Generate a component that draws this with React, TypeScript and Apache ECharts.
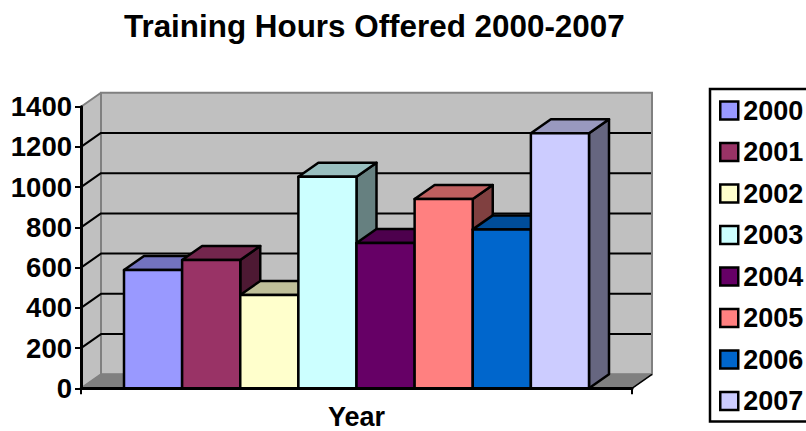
import React, { useEffect, useRef } from "react";
import * as echarts from "echarts";

const chartTitle = "Training Hours Offered 2000-2007";
const axisTitle = "Year";
const categories = [""];
const years = ["2000", "2001", "2002", "2003", "2004", "2005", "2006", "2007"];
const hours = [588, 638, 464, 1052, 722, 941, 790, 1268];
const colors = ["#9999FF", "#993366", "#FFFFCC", "#CCFFFF", "#660066", "#FF8080", "#0066CC", "#CCCCFF"];
const topColors = ["#7373BF", "#73264D", "#BFBF99", "#99BFBF", "#4D004D", "#BF6060", "#004D99", "#9999BF"];
const sideColors = ["#4D4D80", "#4D1933", "#808066", "#668080", "#330033", "#804040", "#003366", "#666680"];
const valueTicks = [0, 200, 400, 600, 800, 1000, 1200, 1400];

const FONT = "Liberation Sans";
const DX = 20;
const DY = -14;
const BAR_SHARE = 465 / 551;

export default function App() {
  const ref = useRef<HTMLDivElement>(null);
  useEffect(() => {
    const chart = echarts.init(ref.current!, null, { renderer: "svg" });

    const wallItem = (params: any, api: any) => {
      const { x, width } = params.coordSys;
      const r = x + width;
      const base = api.coord([0, 0])[1];
      const top = api.coord([0, valueTicks[valueTicks.length - 1]])[1];
      const children: any[] = [
        { type: "polygon", shape: { points: [[x + DX, top + DY], [r + DX, top + DY], [r + DX, base + DY], [x + DX, base + DY]] }, style: { fill: "#C0C0C0", stroke: "#808080", lineWidth: 2 } },
        { type: "polygon", shape: { points: [[x, top], [x + DX, top + DY], [x + DX, base + DY], [x, base]] }, style: { fill: "#C0C0C0", stroke: "#808080", lineWidth: 2, lineJoin: "bevel" } },
        { type: "polygon", shape: { points: [[x, base], [x + DX, base + DY], [r + DX, base + DY], [r, base]] }, style: { fill: "#808080", stroke: "#808080", lineWidth: 1, lineJoin: "bevel" } },
        { type: "line", shape: { x1: r, y1: base, x2: r + DX, y2: base + DY }, style: { stroke: "#000000", lineWidth: 1.5 } },
      ];
      valueTicks.slice(1, -1).forEach((t) => {
        const y = api.coord([0, t])[1];
        children.push({ type: "polyline", shape: { points: [[x, y], [x + DX, y + DY], [r + DX - 1, y + DY]] }, style: { stroke: "#000000", lineWidth: 2, fill: "none", lineJoin: "bevel" } });
      });
      return { type: "group", children };
    };

    const barItem = (i: number) => (_params: any, api: any) => {
      const p = api.coord([0, api.value(1)]);
      const base = api.coord([0, 0])[1];
      const w = (api.size([1, 0])[0] * BAR_SHARE) / years.length;
      const l = p[0] + (i - years.length / 2) * w;
      const r = l + w;
      const t = p[1];
      const border = { stroke: "#000000", lineWidth: 2.5, lineJoin: "round" };
      return {
        type: "group",
        children: [
          { type: "polygon", shape: { points: [[r, t], [r + DX, t + DY], [r + DX, base + DY], [r, base]] }, style: { fill: sideColors[i], ...border } },
          { type: "polygon", shape: { points: [[l, t], [l + DX, t + DY], [r + DX, t + DY], [r, t]] }, style: { fill: topColors[i], ...border } },
          { type: "rect", shape: { x: l, y: t, width: w, height: base - t }, style: { fill: colors[i], ...border } },
        ],
      };
    };

    chart.setOption({
      animation: false,
      backgroundColor: "#FFFFFF",
      textStyle: { fontFamily: FONT },
      title: {
        text: chartTitle,
        left: 124,
        top: 11,
        padding: 0,
        textStyle: { fontFamily: FONT, fontWeight: "bold", fontSize: 31.4, color: "#000000" },
      },
      grid: { left: 81, right: 174, top: 106.7, bottom: 42.7, outerBoundsMode: "none" },
      legend: {
        left: 710,
        top: 89,
        orient: "vertical",
        selectedMode: false,
        icon: "rect",
        itemWidth: 18,
        itemHeight: 18,
        itemGap: 14.5,
        padding: [8, 12, 7, 9],
        backgroundColor: "#FFFFFF",
        borderColor: "#000000",
        borderWidth: 2.5,
        borderRadius: 0,
        textStyle: { fontFamily: FONT, fontWeight: "bold", fontSize: 27, color: "#000000" },
        data: years.map((name, i) => ({
          name,
          itemStyle: { color: colors[i], borderColor: "#000000", borderWidth: 2.5 },
        })),
      },
      xAxis: {
        type: "category",
        data: categories,
        z: 10,
        name: axisTitle,
        nameLocation: "middle",
        nameGap: 15,
        nameTextStyle: { fontFamily: FONT, fontWeight: "bold", fontSize: 27, color: "#000000" },
        axisLine: { lineStyle: { color: "#000000", width: 3 } },
        axisTick: { show: true, length: 6, lineStyle: { color: "#000000", width: 2 } },
        axisLabel: { show: false },
        splitLine: { show: false },
      },
      yAxis: {
        type: "value",
        min: 0,
        max: 1400,
        interval: 200,
        z: 10,
        axisLine: { show: true, lineStyle: { color: "#000000", width: 3 } },
        axisTick: { show: true, length: 6, lineStyle: { color: "#000000", width: 2 } },
        axisLabel: { margin: 9, fontFamily: FONT, fontWeight: "bold", fontSize: 27.5, color: "#000000", formatter: (v: number) => String(v) },
        splitLine: { show: false },
      },
      series: [
        {
          type: "custom",
          name: "walls",
          silent: true,
          data: [[0, 0]],
          encode: { x: 0, y: 1 },
          renderItem: wallItem,
          z: 1,
        },
        ...years.map((name, i) => ({
          type: "custom",
          name,
          silent: true,
          data: [[0, hours[i]]],
          encode: { x: 0, y: 1 },
          itemStyle: { color: colors[i] },
          renderItem: barItem(i),
          z: 2 + i,
        })),
      ],
    });
    return () => chart.dispose();
  }, []);
  return <div ref={ref} style={{ position: "absolute", left: 0, top: 0, width: 806, height: 431 }} />;
}
